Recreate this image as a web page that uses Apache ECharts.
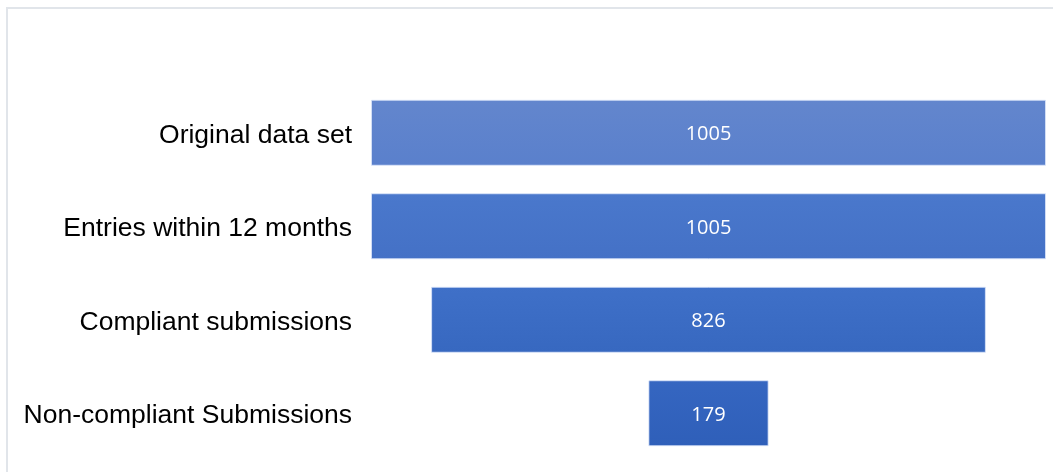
<!DOCTYPE html>
<html>
<head>
<meta charset="utf-8">
<script src="https://cdn.jsdelivr.net/npm/echarts@6/dist/echarts.min.js"></script>
<style>
  html, body { margin: 0; padding: 0; background: #fff; }
  #chart { width: 1053px; height: 472px; }
</style>
</head>
<body>
<div id="chart"></div>
<script>
// Funnel stages and counts
const stages = ['Original data set', 'Entries within 12 months', 'Compliant submissions', 'Non-compliant Submissions'];
const counts = [1005, 1005, 826, 179];
// Per-stage gradient (top, bottom)
const stageColors = [
  ['#6386cd', '#5a80cc'],
  ['#4a78cc', '#4471c6'],
  ['#3f70c8', '#3768c0'],
  ['#3566c1', '#2f5fb9']
];

const maxCount = Math.max(...counts);
// invisible spacer that centres each bar on the widest one
const spacer = counts.map(v => (maxCount - v) / 2);

const chart = echarts.init(document.getElementById('chart'));
chart.setOption({
  animation: false,
  graphic: [{
    type: 'rect',
    shape: { x: 7, y: 8, width: 1200, height: 600 },
    style: { fill: 'none', stroke: '#e1e5ea', lineWidth: 2 },
    silent: true
  }],
  grid: { left: 371, right: 7, top: 86, bottom: 12 },
  xAxis: {
    type: 'value', min: 0, max: maxCount,
    show: false
  },
  yAxis: {
    type: 'category', data: stages, inverse: true,
    axisLine: { show: false }, axisTick: { show: false },
    axisLabel: {
      margin: 19, color: '#000',
      verticalAlign: 'top', lineHeight: 5,
      fontFamily: 'Liberation Sans, Arial, sans-serif', fontSize: 26.5
    }
  },
  series: [
    {
      type: 'bar', stack: 'funnel', data: spacer,
      itemStyle: { color: 'transparent' }, silent: true,
      barWidth: 66
    },
    {
      type: 'bar', stack: 'funnel', barWidth: 66,
      data: counts.map((v, i) => ({
        value: v,
        itemStyle: {
          color: new echarts.graphic.LinearGradient(0, 0, 0, 1, [
            { offset: 0, color: stageColors[i][0] },
            { offset: 1, color: stageColors[i][1] }
          ]),
          borderColor: 'rgba(220,230,250,0.8)', borderWidth: 1
        }
      })),
      label: {
        show: true, position: 'inside', color: '#fff', offset: [0, 2],
        fontFamily: 'Open Sans, Noto Sans, sans-serif', fontSize: 20
      }
    }
  ]
});
</script>
</body>
</html>
